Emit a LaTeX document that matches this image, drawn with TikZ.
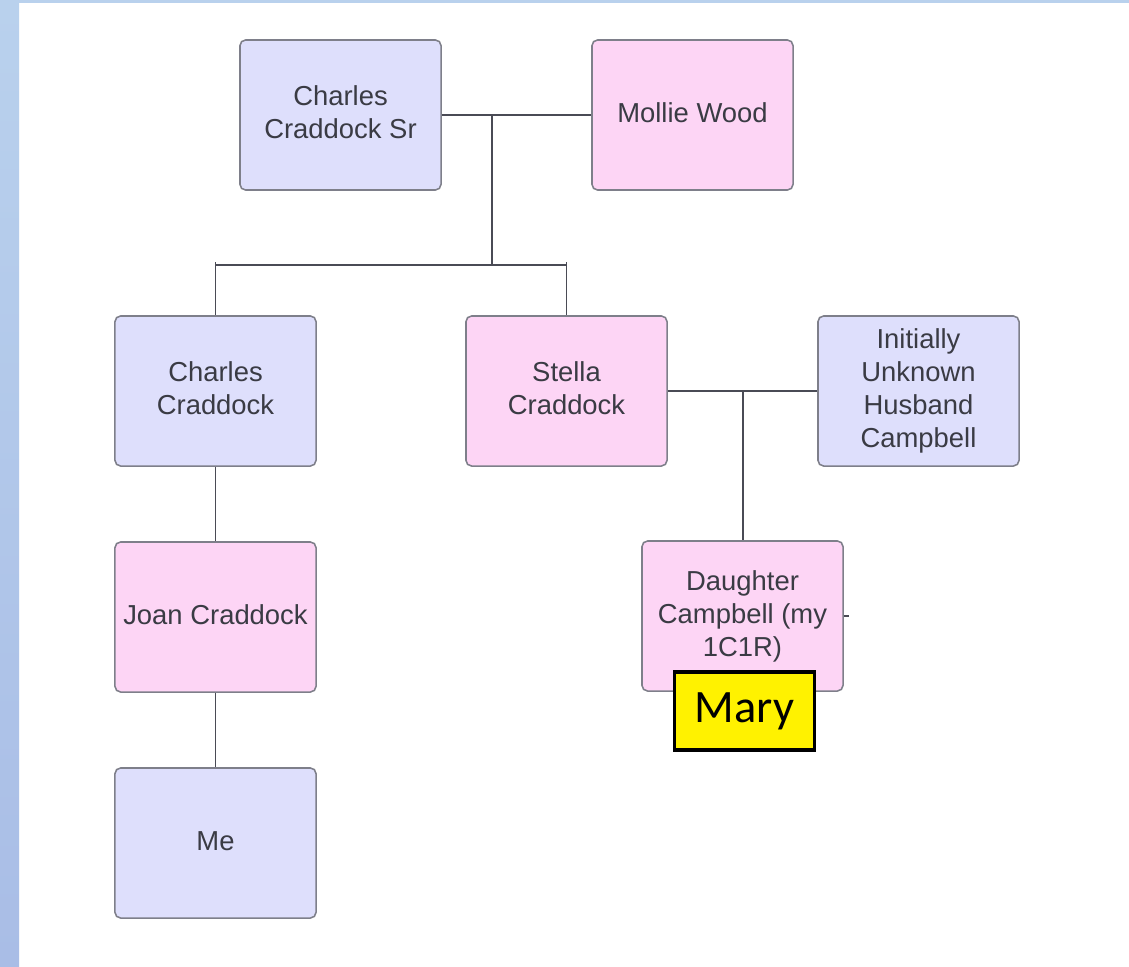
\documentclass[tikz,border=0pt]{standalone}
\usepackage{fontspec}
\setmainfont{Liberation Sans}
\newfontfamily\marylabelfont{Carlito}
\usepackage{xcolor}
\usepackage{tikz}
\usetikzlibrary{positioning}

\definecolor{maleblue}{HTML}{DEDFFC}
\definecolor{femalepink}{HTML}{FDD5F5}
\definecolor{boxborder}{HTML}{7E7F8A}
\definecolor{linkgray}{HTML}{4A4B55}
\definecolor{textgray}{HTML}{3A3B44}
\definecolor{stripetop}{HTML}{B9D1ED}
\definecolor{stripebottom}{HTML}{A9BDE6}

\begin{document}
\begin{tikzpicture}[x=0.025cm, y=-0.025cm,
                    person/.style={draw=boxborder, line width=1.1pt, rounded corners=4pt,
                                   minimum width=5.025cm, minimum height=3.75cm,
                                   align=center, text=textgray,
                                   font=\fontsize{19.5}{23.5}\selectfont},
                    male/.style={person, fill=maleblue},
                    female/.style={person, fill=femalepink},
                    link/.style={line width=1.1pt, linkgray},
                    tag/.style={draw=black, line width=2.2pt, fill=yellow,
                                minimum width=3.5cm, minimum height=1.95cm,
                                font=\marylabelfont\fontsize{33}{36}\selectfont},
                   ]

% page and slide edges
\useasboundingbox (0,0) rectangle (1129,966);
\fill[white] (0,0) rectangle (1129,966);
\shade[top color=stripetop, bottom color=stripebottom] (0,0) rectangle (19,966);
\fill[stripetop] (19,0) rectangle (1129,3);

% grandparents
\node[male]   (sr)     at (340.5,115) {\raisebox{3pt}{\begin{tabular}{@{}c@{}}Charles\\Craddock Sr\end{tabular}}};
\node[female] (mollie) at (692.5,115) {\raisebox{3pt}{Mollie Wood}};

% children and spouse
\node[male]   (cc)      at (215.5,391) {\raisebox{3pt}{\begin{tabular}{@{}c@{}}Charles\\Craddock\end{tabular}}};
\node[female] (stella)  at (566.5,391) {\raisebox{3pt}{\begin{tabular}{@{}c@{}}Stella\\Craddock\end{tabular}}};
\node[male]   (husband) at (918.5,391) {Initially\\Unknown\\Husband\\Campbell};

% next generations
\node[female] (joan)     at (215.5,617) {\raisebox{3pt}{Joan Craddock}};
\node[female] (daughter) at (742.5,616) {Daughter\\Campbell (my\\1C1R)};
\node[male]   (me)       at (215.5,843) {\raisebox{3pt}{Me}};

\node[tag] (mary) at (744.5,711) {Mary};

\coordinate (wed1) at (492,115);
\coordinate (sibL) at (215.5,265);
\coordinate (sibR) at (566.5,265);
\coordinate (sibM) at (492,265);
\coordinate (wed2) at (743,391);
\coordinate (stub) at (849,616);

\draw[link] (sr.east) -- (mollie.west);
\draw[link] (wed1) -- (sibM);
\draw[link] (sibL) -- (sibR);
\draw[link] ([yshift=2pt]sibL) -- (cc.north);
\draw[link] ([yshift=2pt]sibR) -- (stella.north);

\draw[link] (stella.east) -- (husband.west);
\draw[link] (wed2) -- (daughter.north -| wed2);
\draw[link] (daughter.east) -- (stub);

\draw[link] (cc.south) -- (joan.north);
\draw[link] (joan.south) -- (me.north);

\end{tikzpicture}
\end{document}
